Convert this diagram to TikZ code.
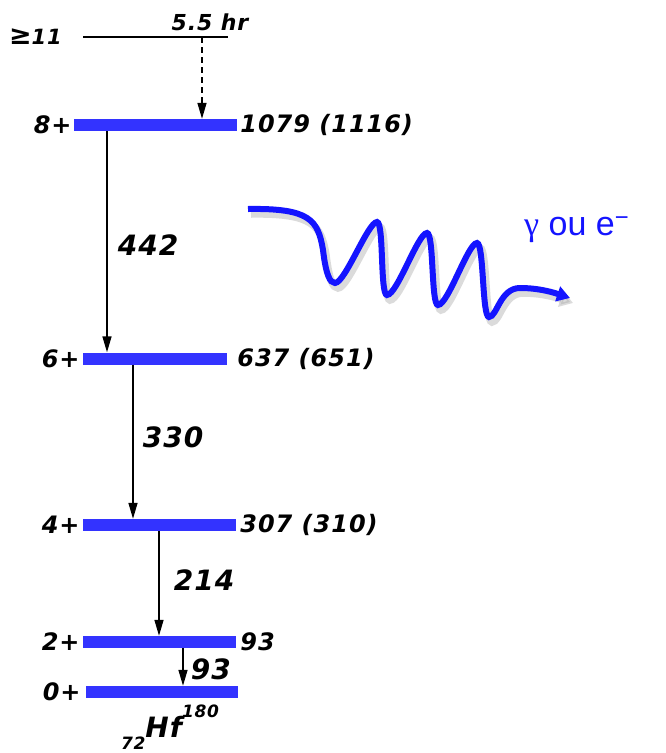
\documentclass[tikz,border=0pt]{standalone}
\usepackage{fontspec}
\usetikzlibrary{positioning,calc,arrows.meta}
\newfontfamily\handfont[LetterSpace=4]{DejaVu Sans}
\newfontfamily\labelfont{Liberation Sans}
\newfontfamily\greekfont{Liberation Serif}
\definecolor{lvlblue}{RGB}{51,51,255}
\definecolor{waveblue}{RGB}{20,20,255}

\begin{document}
\begin{tikzpicture}[x=1pt, y=-1pt, >=Triangle,
		level/.style = {fill=lvlblue, inner sep=0pt, minimum height=12pt},
		hand/.style = {font=\handfont\bfseries\itshape\fontsize{24}{28}\selectfont, inner sep=0pt},
		handbig/.style = {font=\handfont\bfseries\itshape\fontsize{28}{30}\selectfont, inner sep=0pt},
		handsmall/.style = {font=\handfont\bfseries\itshape\fontsize{22}{24}\selectfont, inner sep=0pt},
		trans/.style = {->, line width=1.5pt, >={Triangle[length=16pt,width=9pt]}},
		wave/.style = {line width=6pt, waveblue, -{Triangle[length=13pt,width=15pt]}},
		wshadow/.style = {line width=7.5pt, gray!70, opacity=0.4, -{Triangle[length=13pt,width=16pt]}}]
	\useasboundingbox (0,0) rectangle (666,753);
	\node[level, minimum width=163pt] (l8) at (155.5,125) {};
	\node[level, minimum width=144pt] (l6) at (155,358.5) {};
	\node[level, minimum width=153pt] (l4) at (159.5,525) {};
	\node[level, minimum width=153pt] (l2) at (159.5,642) {};
	\node[level, minimum width=152pt] (l0) at (162,692) {};
	\node[hand, left=2pt of l8] (s8) {8+};
	\node[hand, left=3pt of l6] (s6) {6+};
	\node[hand, left=3pt of l4] (s4) {4+};
	\node[hand, left=3pt of l2] (s2) {2+};
	\node[hand, left=5pt of l0] (s0) {0+};
	\node[hand, right=3pt of l8] (e8) {1079 (1116)};
	\node[hand, right=10pt of l6] (e6) {637 (651)};
	\node[hand, right=4pt of l4] (e4) {307 (310)};
	\node[hand, right=4pt of l2] (e2) {93};
	\coordinate (t11w) at (83,37);
	\coordinate (t11e) at (228,37);
	\coordinate (tdec) at (202,37);
	\draw[line width=1.3pt] (t11w) -- (t11e);
	\node[hand, left=21pt of t11w, font=\handfont\bfseries\itshape\fontsize{21}{24}\selectfont] (s11) {{\fontsize{27}{27}\selectfont ≥}11};
	\node[handsmall, anchor=base] (thalf) at (210,30) {5.5 hr};
	\draw[trans, dashed, dash pattern=on 6pt off 4pt] (tdec) -- (tdec |- l8.north);
	\coordinate (x442) at (107,0);
	\coordinate (x330) at (133,0);
	\coordinate (x214) at (159,0);
	\coordinate (x93) at (183,0);
	\draw[trans] (l8.south -| x442) -- node[handbig, right=10pt, yshift=-3pt] {442} (l6.north -| x442);
	\draw[trans] (l6.south -| x330) -- node[handbig, right=9pt, yshift=4pt] {330} (l4.north -| x330);
	\draw[trans] (l4.south -| x214) -- node[handbig, right=14pt, yshift=3pt] {214} (l2.north -| x214);
	\draw[trans] (l2.south -| x93) -- node[handbig, right=7pt, yshift=-2pt] {93} (l0.north -| x93);
	\node[handbig, anchor=base] (hf) at (170,737) {\raisebox{-12pt}{\fontsize{17}{20}\selectfont 72}Hf\raisebox{20pt}{\fontsize{17}{20}\selectfont 180}};
	\foreach \sh/\sty in {{(3,5)}/wshadow, {(0,0)}/wave}
		\draw[\sty, shift=\sh] (248,209) .. controls (310,208) and (318,220) .. (323,250)
			.. controls (326,275) and (330,283) .. (335,283)
			.. controls (345,283) and (368,222) .. (377,222)
			.. controls (384,222) and (380,295) .. (387,295)
			.. controls (397,295) and (418,233) .. (427,233)
			.. controls (434,233) and (431,305) .. (438,305)
			.. controls (448,305) and (468,243) .. (477,243)
			.. controls (484,243) and (482,317) .. (489,317)
			.. controls (497,317) and (500,288) .. (520,288)
			.. controls (540,288) and (555,293) .. (570,298);
	\node[font=\labelfont\fontsize{34}{38}\selectfont, text=waveblue, anchor=base west, inner sep=0pt] (emit) at (524,235) {{\greekfont γ} ou e\textsuperscript{−}};
\end{tikzpicture}
\end{document}
